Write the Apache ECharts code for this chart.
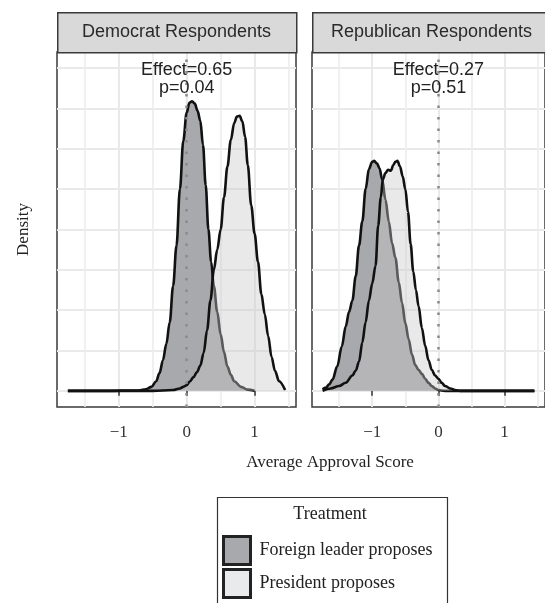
<!DOCTYPE html>
<html><head><meta charset="utf-8">
<script src="https://cdn.jsdelivr.net/npm/echarts@6/dist/echarts.min.js"></script>
<style>html,body{margin:0;padding:0;background:#fff}#c{width:545px;height:603px}</style>
</head><body><div id="c"></div><script>
// ---- data ----
const panels = ['Democrat Respondents', 'Republican Respondents'];
const treatments = ['Foreign leader proposes', 'President proposes'];
const effectLabels = ['Effect=0.65', 'Effect=0.27'];
const pLabels = ['p=0.04', 'p=0.51'];
const xTicks = [-1, 0, 1];
const xMinorGrid = [-1.5, -0.5, 0.5, 1.5];
const yGrid = [0, 0.5, 1, 1.5, 2, 2.5, 3, 3.5, 4];

const demForeignX = [-1.75,-1.2,-0.7,-0.6,-0.52,-0.45,-0.4,-0.35,-0.3,-0.25,-0.2,-0.15,-0.1,-0.05,0.0,0.04,0.08,0.12,0.16,0.2,0.24,0.28,0.32,0.36,0.4,0.45,0.5,0.55,0.6,0.65,0.7,0.8,0.9,1.0];
const demForeignY = [0,0,0.005,0.02,0.05,0.12,0.22,0.38,0.58,0.85,1.3,1.8,2.5,3.1,3.45,3.57,3.59,3.56,3.47,3.35,3.05,2.55,2.0,1.6,1.3,0.98,0.7,0.48,0.3,0.2,0.12,0.05,0.015,0];

const demPresX = [-1.75,-1.0,-0.5,-0.2,-0.1,-0.05,0.0,0.05,0.1,0.15,0.2,0.25,0.3,0.35,0.4,0.45,0.5,0.55,0.6,0.65,0.7,0.74,0.78,0.82,0.86,0.9,0.95,1.0,1.05,1.1,1.15,1.2,1.25,1.3,1.36,1.45];
const demPresY = [0,0,0,0.01,0.03,0.05,0.07,0.12,0.17,0.23,0.31,0.47,0.75,1.12,1.5,1.75,2.0,2.4,2.78,3.11,3.32,3.40,3.41,3.34,3.15,2.8,2.3,1.95,1.6,1.2,0.95,0.68,0.42,0.25,0.12,0.01];

const repForeignX = [-1.75,-1.7,-1.65,-1.6,-1.53,-1.46,-1.4,-1.35,-1.3,-1.25,-1.2,-1.15,-1.1,-1.05,-1.0,-0.97,-0.93,-0.89,-0.85,-0.8,-0.75,-0.7,-0.65,-0.6,-0.55,-0.5,-0.45,-0.4,-0.35,-0.3,-0.25,-0.2,-0.15,-0.1,-0.05,0.0,0.1,0.3,1.45];
const repForeignY = [0.02,0.04,0.08,0.14,0.3,0.55,0.8,0.98,1.12,1.42,1.8,2.1,2.5,2.75,2.84,2.85,2.82,2.76,2.62,2.37,2.1,1.83,1.65,1.35,1.09,0.84,0.64,0.45,0.32,0.26,0.21,0.15,0.1,0.06,0.03,0.01,0,0,0];

const repPresX = [-1.75,-1.63,-1.5,-1.4,-1.3,-1.25,-1.2,-1.15,-1.1,-1.05,-1.0,-0.95,-0.91,-0.87,-0.84,-0.8,-0.76,-0.72,-0.68,-0.65,-0.62,-0.58,-0.54,-0.5,-0.46,-0.42,-0.38,-0.34,-0.3,-0.25,-0.2,-0.15,-0.1,-0.05,0.0,0.05,0.1,0.18,0.25,0.33,0.6,1.0,1.45];
const repPresY = [0,0.03,0.06,0.1,0.19,0.25,0.36,0.6,0.85,1.12,1.33,1.55,2.05,2.4,2.62,2.70,2.74,2.73,2.8,2.84,2.85,2.78,2.66,2.5,2.22,1.82,1.48,1.25,1.05,0.78,0.56,0.38,0.26,0.19,0.15,0.1,0.06,0.03,0.01,0,0,0,0];

// ---- styling ----
const zip = (xs, ys) => xs.map((x, i) => [x, ys[i]]);
const SANS = 'Liberation Sans, Arial, sans-serif';
const SERIF = 'Liberation Serif, Times New Roman, serif';
const darkFill = '#a8a9ac';
const lightFill = 'rgba(200,201,203,0.4)';
const lightLegend = '#e9eaec';
const curveColor = '#111';
const gridLeft = [57, 312];
const gridTop = 52, gridW = 239, gridH = 355;
const xRange = [-1.91, 1.61];
const yRange = [-0.2, 4.2];

const fmt = v => (v < 0 ? '\u2212' + Math.abs(v) : String(v));

const grids = [], xAxes = [], yAxes = [], series = [];
const curves = [
  [zip(demForeignX, demForeignY), zip(demPresX, demPresY)],
  [zip(repForeignX, repForeignY), zip(repPresX, repPresY)]
];

panels.forEach((p, i) => {
  grids.push({left: gridLeft[i], top: gridTop, width: gridW, height: gridH,
    show: true, borderColor: '#3a3a3a', borderWidth: 1.5, backgroundColor: '#fff'});
  xAxes.push({type: 'value', gridIndex: i, min: xRange[0], max: xRange[1],
    axisLine: {show: false},
    axisTick: {show: true, customValues: xTicks, length: 5, lineStyle: {color: '#333', width: 1.5}},
    axisLabel: {customValues: xTicks, formatter: fmt, fontFamily: SERIF, fontSize: 17, color: '#333', margin: 17},
    splitLine: {show: true, lineStyle: {color: '#e9e9e9', width: 2}}});
  xAxes.push({type: 'value', gridIndex: i, min: xRange[0], max: xRange[1],
    axisLine: {show: false},
    axisTick: {show: false, customValues: xMinorGrid},
    axisLabel: {show: false, customValues: xMinorGrid},
    splitLine: {show: true, lineStyle: {color: '#ededed', width: 1.6}}});
  yAxes.push({type: 'value', gridIndex: i, min: yRange[0], max: yRange[1],
    axisLine: {show: false},
    axisTick: {show: false, customValues: yGrid},
    axisLabel: {show: false, customValues: yGrid},
    splitLine: {show: true, lineStyle: {color: '#e9e9e9', width: 1.8}},
    name: i === 0 ? 'Density' : '', nameLocation: 'middle', nameGap: 25,
    nameTextStyle: {fontFamily: SERIF, fontSize: 17, color: '#222'}});

  series.push({
    type: 'line', name: treatments[0], xAxisIndex: 2 * i, yAxisIndex: i,
    data: curves[i][0], showSymbol: false, smooth: 0.35, smoothMonotone: 'x',
    lineStyle: {color: curveColor, width: 2.6}, itemStyle: {color: darkFill},
    areaStyle: {color: darkFill, opacity: 1}, z: 2,
    markPoint: {
      symbol: 'circle', symbolSize: 0, silent: true,
      data: [{coord: [0, 3.87], value: 0}],
      label: {show: true, position: 'inside', formatter: effectLabels[i] + '\n' + pLabels[i],
        fontFamily: SANS, fontSize: 18, lineHeight: 18, color: '#222'}
    }
  });
  series.push({
    type: 'line', name: treatments[1], xAxisIndex: 2 * i, yAxisIndex: i,
    data: curves[i][1], showSymbol: false, smooth: 0.35, smoothMonotone: 'x',
    lineStyle: {color: curveColor, width: 2.6}, itemStyle: {color: lightLegend},
    areaStyle: {color: lightFill, opacity: 1}, z: 3,
    markLine: {
      silent: true, symbol: 'none', label: {show: false},
      lineStyle: {color: '#8a8a8a', type: [2.5, 9], width: 2.5, cap: 'butt'},
      data: [{xAxis: 0}]
    }
  });
});

const graphics = [];
panels.forEach((p, i) => {
  graphics.push({type: 'rect', left: gridLeft[i], top: 12, z: 10,
    shape: {width: gridW, height: 40},
    style: {fill: '#d9d9d9', stroke: '#3a3a3a', lineWidth: 1.5}});
  graphics.push({type: 'text', x: gridLeft[i] + gridW / 2, y: 32, z: 11,
    style: {text: p, fontFamily: SANS, fontSize: 18, fill: '#2a2a2a', align: 'center', verticalAlign: 'middle'}});
});
graphics.push({type: 'text', x: 330, y: 463, style: {text: 'Average Approval Score', fontFamily: SERIF, fontSize: 17, fill: '#222', align: 'center', verticalAlign: 'middle'}});
graphics.push({type: 'rect', left: 215, top: 495, shape: {width: 230, height: 130}, style: {fill: 'none', stroke: '#333', lineWidth: 1.2}});
graphics.push({type: 'text', x: 330, y: 514, style: {text: 'Treatment', fontFamily: SERIF, fontSize: 18, fill: '#222', align: 'center', verticalAlign: 'middle'}});

const chart = echarts.init(document.getElementById('c'), null, {renderer: 'canvas'});
chart.setOption({
  animation: false,
  backgroundColor: '#fff',
  grid: grids, xAxis: xAxes, yAxis: yAxes, series: series,
  legend: {
    orient: 'vertical', left: 222, top: 535, height: 90, padding: 0,
    itemWidth: 27, itemHeight: 28, itemGap: 2,
    icon: 'rect', selectedMode: false,
    textStyle: {fontFamily: SERIF, fontSize: 18, color: '#222', padding: [0, 0, 0, 4]},
    data: [
      {name: treatments[0], icon: 'rect', itemStyle: {color: darkFill, borderColor: '#222', borderWidth: 3}, lineStyle: {width: 0}},
      {name: treatments[1], icon: 'rect', itemStyle: {color: lightLegend, borderColor: '#222', borderWidth: 3}, lineStyle: {width: 0}}
    ]
  },
  graphic: graphics
});
</script></body></html>
